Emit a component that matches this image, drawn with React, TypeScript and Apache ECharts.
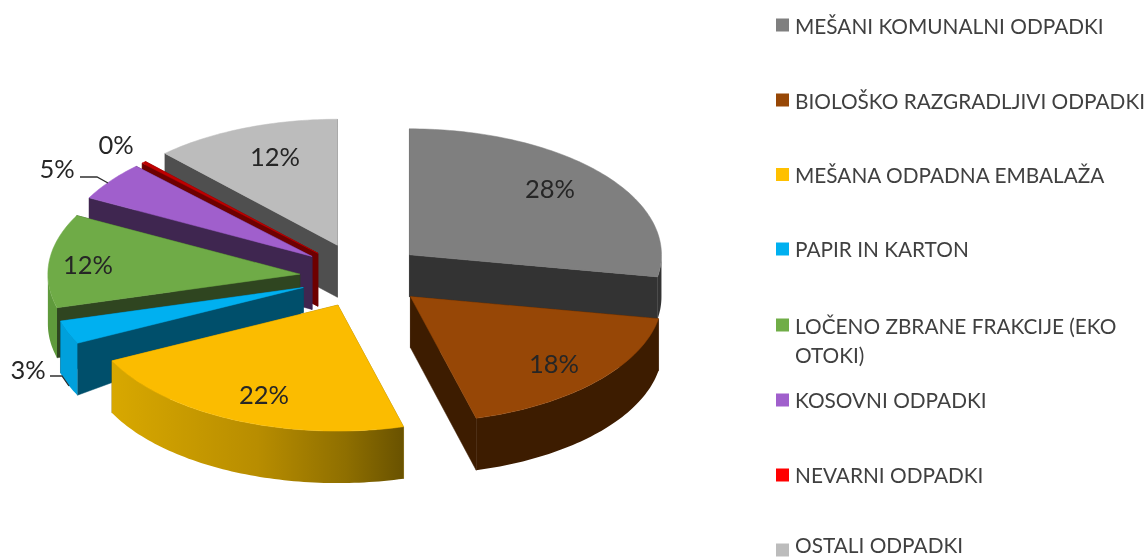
import React, { useEffect, useRef } from "react";
import * as echarts from "echarts";

// ---- data ----
const categories = [
  "MEŠANI KOMUNALNI ODPADKI",
  "BIOLOŠKO RAZGRADLJIVI ODPADKI",
  "MEŠANA ODPADNA EMBALAŽA",
  "PAPIR IN KARTON",
  "LOČENO ZBRANE FRAKCIJE (EKO\nOTOKI)",
  "KOSOVNI ODPADKI",
  "NEVARNI ODPADKI",
  "OSTALI ODPADKI",
];
const shares = [27.8, 18, 21.9, 3, 12, 5, 0.3, 12];

// ---- styles ----
const topColors = ["#7f7f7f", "#974706", "#fbbc00", "#00b0f0", "#6fab47", "#a05fcc", "#c00000", "#bcbcbc"];
const legendColors = ["#7f7f7f", "#974706", "#ffc000", "#00b0f0", "#70ad47", "#a05fcc", "#ff0000", "#bcbcbc"];
const wallColors = ["#333333", "#3d1c00", "#8a6c00", "#004f6b", "#2f4520", "#3f2650", "#6e0000", "#4f4f4f"];
const arcColors = ["#333333", "#3d1c00", "gradient", "#00a0dc", "#5f9a3c", "#3f2650", "#6e0000", "#4f4f4f"];

// ---- layout ----
const CX = 365, CY = 275, RX = 252, RY = 126;
const explodeX = [58, 61.6, 66, 66, 65.5, 66, 68, 75];
const explodeY = [31.4, 32, 33, 35, 8, 31, 30, 32];
const rimDepth = [42, 52, 52, 52, 50, 52, 53, 52];
const apexDepth = [42, 51, 52, 25, 50, 53, 53, 52];
const drawOrder = [7, 6, 5, 0, 4, 3, 1, 2];
const labelPos: [number, number][] = [
  [550, 188], [554, 363], [264, 394], [28, 369], [88, 264], [57, 168], [116, 144], [275, 156],
];
const leaders: Record<number, [number, number][]> = {
  3: [[50, 376], [62, 376], [69, 386]],
  5: [[80, 177], [97, 177], [108, 183]],
};
const legendRows = [25, 100, 174.5, 249, 325, 400, 475, 550];
const legendTextRows = [25, 100, 174, 248, 325, 399, 474, 544.5];
const FONT = "Lato, Carlito, sans-serif";

const total = shares.reduce((a, b) => a + b, 0);
const starts: number[] = [];
shares.reduce((acc, v, i) => {
  starts[i] = (acc / total) * Math.PI * 2;
  return acc + v;
}, 0);
const angleSpan = (i: number) => (shares[i] / total) * Math.PI * 2;

function apexOf(i: number): [number, number] {
  const mid = starts[i] + angleSpan(i) / 2;
  return [CX + explodeX[i] * Math.sin(mid), CY - explodeY[i] * Math.cos(mid)];
}
function rimPoint(i: number, t: number, dy = 0): [number, number] {
  const a = apexOf(i);
  return [a[0] + RX * Math.sin(t), a[1] - RY * Math.cos(t) + dy];
}
function arcPoints(i: number, t0: number, t1: number, dy = 0) {
  const n = Math.max(2, Math.ceil((t1 - t0) / 0.02));
  const pts: [number, number][] = [];
  for (let k = 0; k <= n; k++) pts.push(rimPoint(i, t0 + ((t1 - t0) * k) / n, dy));
  return pts;
}

function renderSlice(_: any, api: any) {
  const i = api.value(0) as number;
  const t0 = starts[i];
  const t1 = t0 + angleSpan(i);
  const a = apexOf(i);
  const rd = rimDepth[i];
  const ad = apexDepth[i];
  const children: any[] = [];

  const wall = (t: number) => {
    const r = rimPoint(i, t);
    return {
      y: r[1],
      el: {
        type: "polygon",
        shape: { points: [a, r, [r[0], r[1] + rd], [a[0], a[1] + ad]] },
        style: { fill: wallColors[i], stroke: wallColors[i], lineWidth: 0.5 },
      },
    };
  };
  [wall(t0), wall(t1)].sort((p, q) => p.y - q.y).forEach((w) => children.push(w.el));

  const f0 = Math.max(t0, Math.PI / 2);
  const f1 = Math.min(t1, (Math.PI * 3) / 2);
  if (f1 > f0) {
    const pts = [...arcPoints(i, f0, f1), ...arcPoints(i, f0, f1, rd).reverse()];
    const fill =
      arcColors[i] === "gradient"
        ? new echarts.graphic.LinearGradient(
            rimPoint(i, f1)[0], 0, rimPoint(i, f0)[0], 0,
            [
              { offset: 0, color: "#d8a800" },
              { offset: 0.5, color: "#b88d00" },
              { offset: 0.8, color: "#8f6f00" },
              { offset: 1, color: "#695200" },
            ],
            true
          )
        : arcColors[i];
    children.push({ type: "polygon", shape: { points: pts }, style: { fill } });
  }

  children.push({
    type: "polygon",
    shape: { points: [a, ...arcPoints(i, t0, t1)] },
    style: { fill: topColors[i], stroke: topColors[i], lineWidth: 0.5 },
  });

  if (leaders[i]) {
    children.push({
      type: "polyline",
      shape: { points: leaders[i] },
      style: { fill: "none", stroke: "#303030", lineWidth: 1.3 },
    });
  }
  children.push({
    type: "text",
    style: {
      text: `${Math.round((shares[i] / total) * 100)}%`,
      x: labelPos[i][0],
      y: labelPos[i][1],
      align: "center",
      verticalAlign: "middle",
      textAlign: "center",
      textVerticalAlign: "middle",
      fill: "#262626",
      font: `25.5px ${FONT}`,
    },
  });
  return { type: "group", children };
}

function legendGraphics() {
  const out: any[] = [];
  categories.forEach((name, i) => {
    out.push({
      type: "rect",
      shape: { x: 776, y: legendRows[i] - 6.5, width: 13, height: 13 },
      style: { fill: legendColors[i] },
    });
    name.split("\n").forEach((line, k) => {
      out.push({
        type: "text",
        style: {
          text: line,
          x: 795,
          y: legendTextRows[i] + k * 29,
          align: "left",
          verticalAlign: "middle",
          textAlign: "left",
          textVerticalAlign: "middle",
          fill: "#404040",
          font: `20.8px ${FONT}`,
        },
      });
    });
  });
  return out;
}

export default function App() {
  const ref = useRef<HTMLDivElement>(null);
  useEffect(() => {
    const chart = echarts.init(ref.current!, null, { renderer: "svg" });
    chart.setOption({
      animation: false,
      backgroundColor: "#ffffff",
      graphic: legendGraphics(),
      series: [
        {
          type: "custom",
          coordinateSystem: "none",
          renderItem: renderSlice,
          data: drawOrder.map((i) => [i, shares[i]]),
          silent: true,
        },
      ],
    });
    return () => chart.dispose();
  }, []);
  return (
    <div
      ref={ref}
      style={{ position: "absolute", left: 0, top: 0, width: 1145, height: 557, filter: "blur(0.5px)" }}
    />
  );
}
